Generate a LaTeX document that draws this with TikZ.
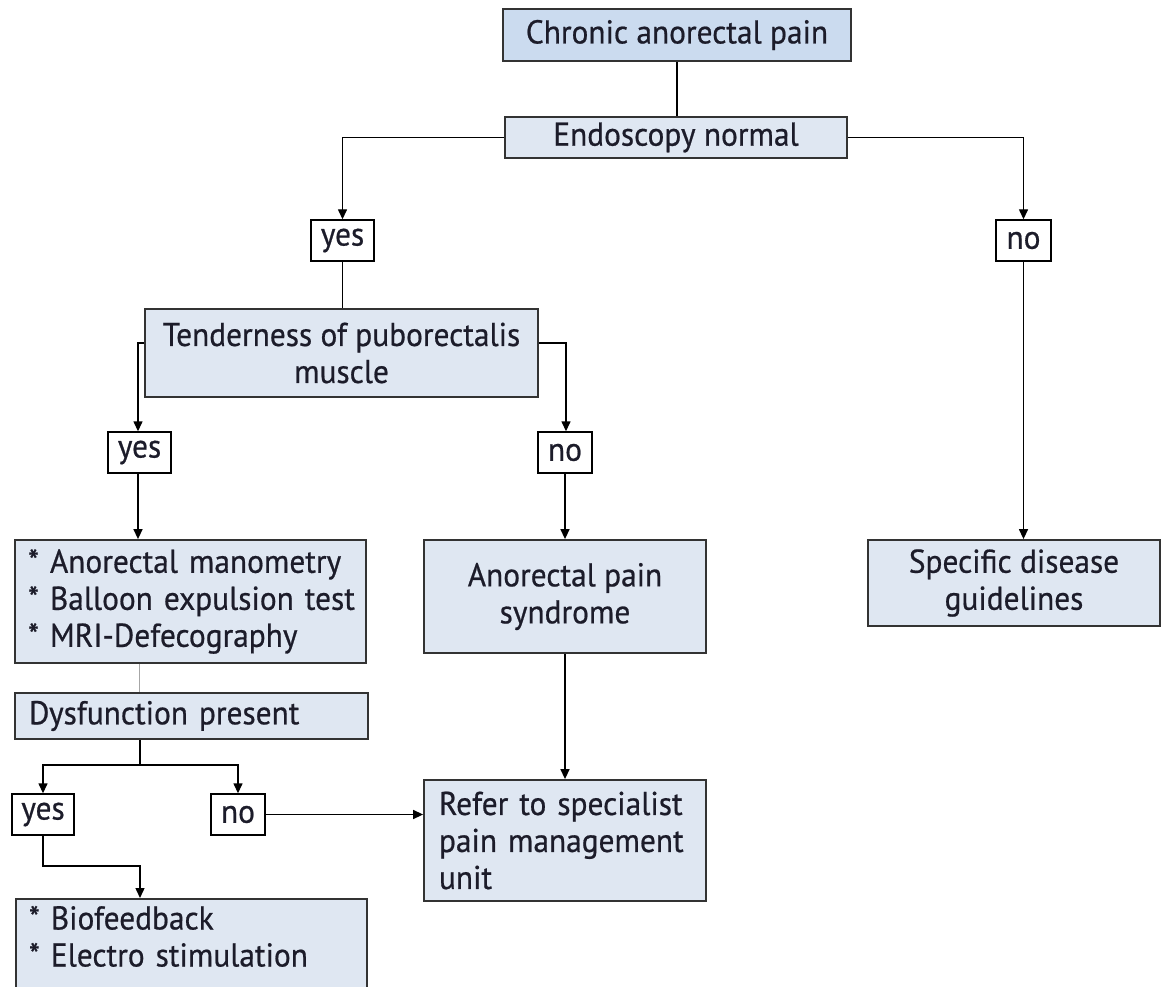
\documentclass[tikz,border=0pt]{standalone}
\usepackage{fontspec}
\setmainfont{PT Sans}[FakeBold=0.6,FakeStretch=0.95]
\usetikzlibrary{arrows.meta}
\definecolor{boxfill}{HTML}{DFE7F2}
\definecolor{topfill}{HTML}{CBDBEF}
\definecolor{boxline}{HTML}{333333}
\definecolor{txt}{HTML}{1C1C2A}
\begin{document}
\begin{tikzpicture}[x=1pt,y=1pt,
  every node/.style={text=txt, font=\fontsize{33}{37}\selectfont},
  bx/.style={draw=boxline, line width=1.8pt, fill=boxfill, inner sep=0pt, align=center},
  lbox/.style={bx, align=left},
  lab/.style={draw=black, line width=1.4pt, fill=white, inner sep=0pt, minimum height=41pt},
  conn/.style={line width=1.4pt, draw=black},
  arr/.style={conn, -{Triangle[length=10pt,width=9pt]}}]
\clip (0,0) rectangle (1162,-987);
\fill[white] (0,0) rectangle (1162,-987);

\node[bx, fill=topfill, minimum width=348pt, minimum height=52pt] (chronic) at (677,-35) {Chronic anorectal pain};
\node[bx, minimum width=342pt, minimum height=41pt] (endo) at (676,-137.5) {Endoscopy normal};
\node[lab, minimum width=63pt] (yes1) at (342.5,-240.5) {yes};
\node[lab, minimum width=55pt] (no1) at (1023.5,-240.5) {no};
\node[bx, minimum width=393pt, minimum height=88pt] (tender) at (341.5,-353) {Tenderness of puborectalis\\muscle};
\node[lab, minimum width=63pt] (yes2) at (139.5,-452.5) {yes};
\node[lab, minimum width=54pt] (no2) at (565,-452.5) {no};
\node[lbox, text width=325pt, inner xsep=13pt, minimum height=123pt] (tests) at (190.5,-601.5) {\mbox{{*} Anorectal manometry}\\\mbox{{*} Balloon expulsion test}\\\mbox{{*} MRI-Defecography}};
\node[bx, minimum width=282pt, minimum height=113pt] (syndrome) at (565,-596.5) {Anorectal pain\\syndrome};
\node[bx, minimum width=292pt, minimum height=86pt] (specific) at (1014,-583) {Specific disease\\guidelines};
\node[lbox, text width=325pt, inner xsep=14pt, minimum height=46pt] (dysf) at (191.5,-716) {Dysfunction present};
\node[lab, minimum width=62pt] (yes3) at (43,-814.5) {yes};
\node[lab, minimum width=54pt] (no3) at (238,-814.5) {no};
\node[lbox, text width=252pt, inner xsep=15pt, minimum height=121pt] (refer) at (565,-840.5) {\mbox{Refer to specialist}\\\mbox{pain management}\\unit};
\node[lbox, anchor=north west, text width=325pt, inner xsep=13pt, inner ysep=7pt, text depth=60pt] (treat) at (15,-898) {{*} Biofeedback\\\mbox{{*} Electro stimulation}};

\coordinate (split) at (140,-765);
\coordinate (bend) at (140,-866);

\draw[conn] (chronic.south) -- (chronic.south |- endo.north);
\draw[arr] (endo.west) -| (yes1.north);
\draw[arr] (endo.east) -| (no1.north);
\draw[conn] (yes1.south) -- (yes1.south |- tender.north);
\draw[arr] ([yshift=10pt]tender.west) -| ([xshift=-1.5pt]yes2.north);
\draw[arr] ([yshift=10pt]tender.east) -| ([xshift=1pt]no2.north);
\draw[arr] ([xshift=-1.5pt]yes2.south) -- ([xshift=-1.5pt]yes2.south |- tests.north);
\draw[arr] (no2.south) -- (syndrome.north);
\draw[arr] (no1.south) -- (no1.south |- specific.north);
\draw[line width=1.2pt, draw=gray!70] (yes2.south |- tests.south) -- (yes2.south |- dysf.north);
\draw[conn] (split |- dysf.south) -- (split);
\draw[arr] (split) -| (yes3.north);
\draw[arr] (split) -| (no3.north);
\draw[arr] (no3.east) -- (no3.east -| refer.west);
\draw[arr] (syndrome.south) -- (refer.north);
\draw[arr] (yes3.south) |- (bend) -- (bend |- treat.north);
\end{tikzpicture}
\end{document}
